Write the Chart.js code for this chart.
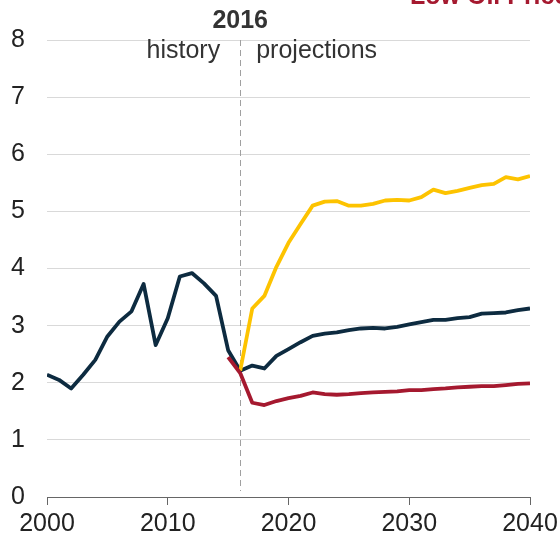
<!DOCTYPE html>
<html>
<head>
<meta charset="utf-8">
<script src="https://cdn.jsdelivr.net/npm/chart.js@4.4.0/dist/chart.umd.min.js"></script>
<style>
  html, body { margin: 0; padding: 0; background: #fff; }
  #wrap { width: 560px; height: 541px; position: relative; }
</style>
</head>
<body>
<div id="wrap"><canvas id="c" width="560" height="541"></canvas></div>
<script>
const histYears = [2000,2001,2002,2003,2004,2005,2006,2007,2008,2009,2010,2011,2012,2013,2014,2015,2016];
const histValues = [2.14,2.05,1.90,2.14,2.40,2.81,3.07,3.25,3.73,2.66,3.13,3.86,3.92,3.74,3.52,2.57,2.21];

const projYears = [2016,2017,2018,2019,2020,2021,2022,2023,2024,2025,2026,2027,2028,2029,2030,2031,2032,2033,2034,2035,2036,2037,2038,2039,2040];
const referenceValues = [2.21,2.30,2.25,2.47,2.59,2.71,2.82,2.86,2.88,2.92,2.95,2.96,2.95,2.98,3.02,3.06,3.10,3.10,3.13,3.15,3.21,3.22,3.23,3.27,3.30];
const highValues = [2.21,3.30,3.52,4.03,4.45,4.78,5.10,5.17,5.18,5.10,5.10,5.13,5.19,5.20,5.19,5.25,5.38,5.32,5.36,5.41,5.46,5.48,5.60,5.56,5.62];
const lowYears = [2015].concat(projYears);
const lowValues = [2.45,2.17,1.65,1.61,1.68,1.73,1.77,1.83,1.80,1.79,1.80,1.82,1.83,1.84,1.85,1.87,1.87,1.89,1.90,1.92,1.93,1.94,1.94,1.96,1.98,1.99];

const xTicks = [2000, 2010, 2020, 2030, 2040];
const yTicks = [0,1,2,3,4,5,6,7,8];
const dividerYear = 2016;
const dividerLabel = "2016";
const leftLabel = "history";
const rightLabel = "projections";
const cutLegend = "Low Oil Price";

const NAVY = '#0d2b40';
const GOLD = '#fdc300';
const RED = '#a5192f';
const FONT = '"Liberation Sans", Arial, sans-serif';

function pts(xs, ys) { return xs.map((x, i) => ({ x: x, y: ys[i] })); }

const annot = {
  id: 'annot',
  beforeDatasetsDraw(chart) {
    const ctx = chart.ctx;
    const xs = chart.scales.x, ys = chart.scales.y;
    const px = Math.round(xs.getPixelForValue(dividerYear)) + 0.5;
    ctx.save();
    ctx.strokeStyle = '#a0a0a0';
    ctx.lineWidth = 1;
    ctx.setLineDash([6, 4]);
    ctx.beginPath();
    ctx.moveTo(px, ys.getPixelForValue(8));
    ctx.lineTo(px, ys.getPixelForValue(0) - 6);
    ctx.stroke();
    ctx.restore();
  },
  afterDraw(chart) {
    const ctx = chart.ctx;
    const xs = chart.scales.x, ys = chart.scales.y;
    const px = xs.getPixelForValue(dividerYear);
    const top = ys.getPixelForValue(8);
    ctx.save();
    ctx.fillStyle = '#333333';
    ctx.textBaseline = 'alphabetic';
    ctx.font = 'bold 25px ' + FONT;
    ctx.textAlign = 'center';
    ctx.fillText(dividerLabel, px, top - 12);
    ctx.font = '25px ' + FONT;
    ctx.textAlign = 'right';
    ctx.fillText(leftLabel, px - 20, top + 18);
    ctx.textAlign = 'left';
    ctx.fillText(rightLabel, px + 16, top + 18);
    ctx.fillStyle = RED;
    ctx.font = 'bold 25px ' + FONT;
    ctx.fillText(cutLegend, 410, 4);
    ctx.restore();
  }
};

new Chart(document.getElementById('c'), {
  type: 'line',
  data: {
    datasets: [
      { label: 'Low', data: pts(lowYears, lowValues), borderColor: RED },
      { label: 'High', data: pts(projYears, highValues), borderColor: GOLD },
      { label: 'Reference', data: pts(projYears, referenceValues), borderColor: NAVY },
      { label: 'History', data: pts(histYears, histValues), borderColor: NAVY }
    ]
  },
  options: {
    responsive: false,
    animation: false,
    devicePixelRatio: 1,
    layout: { padding: { top: 40, right: 30, left: 0, bottom: 0 } },
    elements: {
      line: { borderWidth: 3.8, tension: 0, fill: false, borderJoinStyle: 'round', borderCapStyle: 'butt' },
      point: { radius: 0, hoverRadius: 0 }
    },
    plugins: { legend: { display: false }, tooltip: { enabled: false } },
    scales: {
      x: {
        type: 'linear',
        min: 2000, max: 2040,
        afterFit(s) { s.height = 44; s.paddingLeft = 0; s.paddingRight = 0; },
        afterBuildTicks(s) { s.ticks = xTicks.map(v => ({ value: v })); },
        ticks: {
          color: '#222222',
          font: { family: FONT, size: 25 },
          padding: 4,
          maxRotation: 0,
          autoSkip: false,
          callback: v => String(v)
        },
        grid: { drawOnChartArea: false, drawTicks: true, tickLength: 8, color: '#666666', lineWidth: 1 },
        border: { display: true, color: '#666666', width: 1 }
      },
      y: {
        min: 0, max: 8,
        afterFit(s) { s.width = 47; s.paddingTop = 0; s.paddingBottom = 0; },
        afterBuildTicks(s) { s.ticks = yTicks.map(v => ({ value: v })); },
        ticks: {
          color: '#222222',
          font: { family: FONT, size: 25 },
          padding: 22,
          callback: v => String(v)
        },
        grid: {
          drawTicks: false,
          color: ctx => ctx.tick && ctx.tick.value === 0 ? 'rgba(0,0,0,0)' : '#d9d9d9',
          lineWidth: 1
        },
        border: { display: false }
      }
    }
  },
  plugins: [annot]
});
</script>
</body>
</html>
